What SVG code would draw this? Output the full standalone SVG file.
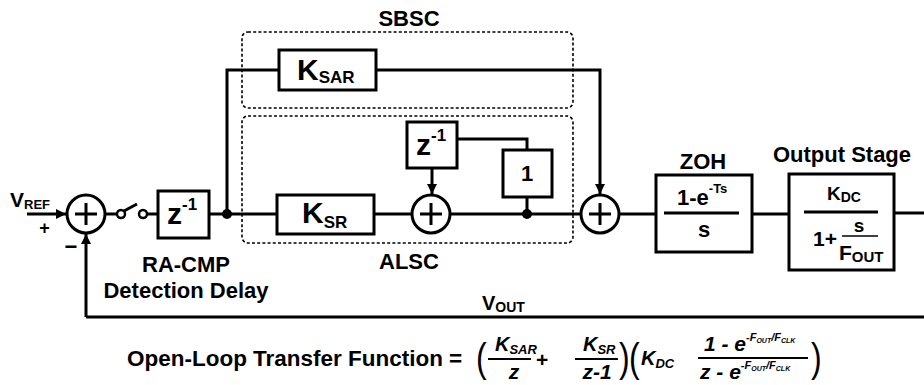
<svg xmlns="http://www.w3.org/2000/svg" width="924" height="385" viewBox="0 0 924 385">
<style>
.w{fill:none;stroke:#000;stroke-width:3}
.box{fill:#fff;stroke:#000;stroke-width:3}
.dash{fill:none;stroke:#000;stroke-width:1.6;stroke-dasharray:3 2.2}
.t{font-family:"Liberation Sans",Arial,sans-serif;font-weight:bold;fill:#000}
.i{font-family:"Liberation Sans",Arial,sans-serif;font-weight:bold;font-style:italic;fill:#000}
.p{font-family:"Liberation Sans",Arial,sans-serif;fill:#000}
.bar{stroke:#000;stroke-width:2}
</style>
<defs>
<marker id="ah" viewBox="0 0 10 10" refX="10" refY="5" markerWidth="10" markerHeight="10" markerUnits="userSpaceOnUse" orient="auto">
<path d="M0,0 L10,5 L0,10 Z" fill="#000"/>
</marker>
</defs>

<g id="groups">
<rect class="dash" x="242" y="32" width="331" height="76" rx="6"/>
<rect class="dash" x="242" y="116" width="331" height="127" rx="6"/>
<text class="t" x="409" y="26" font-size="22" text-anchor="middle">SBSC</text>
<text class="t" x="409" y="269" font-size="22" text-anchor="middle">ALSC</text>
</g>

<g id="connectors">
<path class="w" d="M27,214 H66" marker-end="url(#ah)"/>
<path class="w" d="M86,317 V234" marker-end="url(#ah)"/>
<path class="w" d="M105,214 H117"/>
<path class="w" d="M124,211 L137,204"/>
<path class="w" d="M147,214 H158"/>
<path class="w" d="M209,214 H277"/>
<path class="w" d="M227,214 V70 H279"/>
<path class="w" d="M376,70 H600 V194" marker-end="url(#ah)"/>
<path class="w" d="M374,214 H412"/>
<path class="w" d="M432,168 V194" marker-end="url(#ah)"/>
<path class="w" d="M457,139 H527 V150"/>
<path class="w" d="M527,197 V214"/>
<path class="w" d="M450,214 H581"/>
<path class="w" d="M619,214 H656"/>
<path class="w" d="M752,214 H789"/>
<path class="w" d="M894,213 H924"/>
<path class="w" d="M924,317 H86"/>
<circle cx="227" cy="214" r="5" fill="#000"/>
<circle cx="527" cy="214" r="5" fill="#000"/>
</g>

<g id="vref">
<text class="t" x="10" y="207" font-size="21">V<tspan font-size="13" dy="2">REF</tspan></text>
<text class="t" x="44.5" y="234" font-size="18" text-anchor="middle">+</text>
<text class="t" x="71" y="254" font-size="22" text-anchor="middle">−</text>
</g>

<g id="sum1">
<circle class="box" cx="86" cy="214" r="19"/>
<path class="w" d="M86,203 V225 M75,214 H97"/>
</g>

<g id="switch">
<circle cx="121" cy="214" r="4" fill="#fff" stroke="#000" stroke-width="2.5"/>
<circle cx="143" cy="214" r="4" fill="#fff" stroke="#000" stroke-width="2.5"/>
</g>

<g id="delay">
<rect class="box" x="158" y="191" width="51" height="47"/>
<text class="t" x="167" y="224" font-size="30">z<tspan font-size="17" dy="-14">-1</tspan></text>
<text class="t" x="186" y="272" font-size="22" text-anchor="middle">RA-CMP</text>
<text class="t" x="186" y="298" font-size="22" text-anchor="middle">Detection Delay</text>
</g>

<g id="ksar">
<rect class="box" x="279" y="50" width="97" height="40"/>
<text class="t" x="297" y="80" font-size="30">K<tspan font-size="17" dy="3">SAR</tspan></text>
</g>

<g id="ksr">
<rect class="box" x="277" y="195" width="97" height="39"/>
<text class="t" x="302" y="223" font-size="30">K<tspan font-size="17" dy="5">SR</tspan></text>
</g>

<g id="sum2">
<circle class="box" cx="431" cy="214" r="19"/>
<path class="w" d="M431,203 V225 M420,214 H442"/>
</g>

<g id="zinv">
<rect class="box" x="407" y="122" width="50" height="46"/>
<text class="t" x="416" y="155" font-size="30">z<tspan font-size="17" dy="-14">-1</tspan></text>
</g>

<g id="one">
<rect class="box" x="503" y="150" width="49" height="47"/>
<text class="t" x="527" y="181" font-size="22" text-anchor="middle">1</text>
</g>

<g id="sum3">
<circle class="box" cx="600" cy="214" r="19"/>
<path class="w" d="M600,203 V225 M589,214 H611"/>
</g>

<g id="zoh">
<text class="t" x="703" y="169" font-size="22" text-anchor="middle">ZOH</text>
<rect class="box" x="656" y="175" width="96" height="77"/>
<path class="w" d="M664,213 H739"/>
<text class="t" x="677" y="205" font-size="22">1-e<tspan font-size="13" dy="-12">-Ts</tspan></text>
<text class="t" x="704" y="237" font-size="22" text-anchor="middle">s</text>
</g>

<g id="outstage">
<text class="t" x="842" y="162" font-size="22" text-anchor="middle">Output Stage</text>
<rect class="box" x="789" y="174" width="105" height="96"/>
<path class="w" d="M804,212 H878"/>
<text class="t" x="827" y="200" font-size="19">K<tspan font-size="14" dy="2">DC</tspan></text>
<text class="t" x="813" y="246" font-size="21">1+</text>
<path d="M842,236 H878" stroke="#000" stroke-width="1.6"/>
<text class="t" x="859" y="232" font-size="19" text-anchor="middle">s</text>
<text class="t" x="839" y="260" font-size="21">F<tspan font-size="15" dy="2">OUT</tspan></text>
</g>

<g id="vout">
<text class="t" x="482" y="310" font-size="20">V<tspan font-size="14" dy="2">OUT</tspan></text>
</g>

<g id="formula">
<text class="t" x="127" y="366" font-size="22.5" textLength="316" lengthAdjust="spacingAndGlyphs">Open-Loop Transfer Function</text>
<text class="t" x="449" y="366" font-size="22.5">=</text>
<text class="p" transform="translate(476,372) scale(0.8,1)" font-size="40">(</text>
<text class="i" x="495" y="351" font-size="20">K<tspan font-size="13" dy="3">SAR</tspan></text>
<path class="bar" d="M488,359 H531"/>
<text class="i" x="514" y="379" font-size="21" text-anchor="middle">z</text>
<text class="t" x="536" y="367" font-size="21">+</text>
<text class="i" x="583" y="351" font-size="20">K<tspan font-size="13" dy="3">SR</tspan></text>
<path class="bar" d="M575,359 H618"/>
<text class="i" x="597" y="379" font-size="21" text-anchor="middle">z-1</text>
<text class="p" transform="translate(619,372) scale(0.8,1)" font-size="40">)</text>
<text class="p" transform="translate(629,372) scale(0.8,1)" font-size="40">(</text>
<text class="i" x="641" y="365" font-size="20">K<tspan font-size="13" dy="3">DC</tspan></text>
<text class="i" x="704" y="351" font-size="21">1 - e<tspan font-size="11" dy="-10">-F<tspan font-size="7" dy="2">OUT</tspan><tspan dy="-2">/F</tspan><tspan font-size="7" dy="2">CLK</tspan></tspan></text>
<path class="bar" d="M698,358 H808"/>
<text class="i" x="700" y="379" font-size="21">z - e<tspan font-size="11" dy="-10">-F<tspan font-size="7" dy="2">OUT</tspan><tspan dy="-2">/F</tspan><tspan font-size="7" dy="2">CLK</tspan></tspan></text>
<text class="p" transform="translate(811,372) scale(0.8,1)" font-size="40">)</text>
</g>
</svg>
